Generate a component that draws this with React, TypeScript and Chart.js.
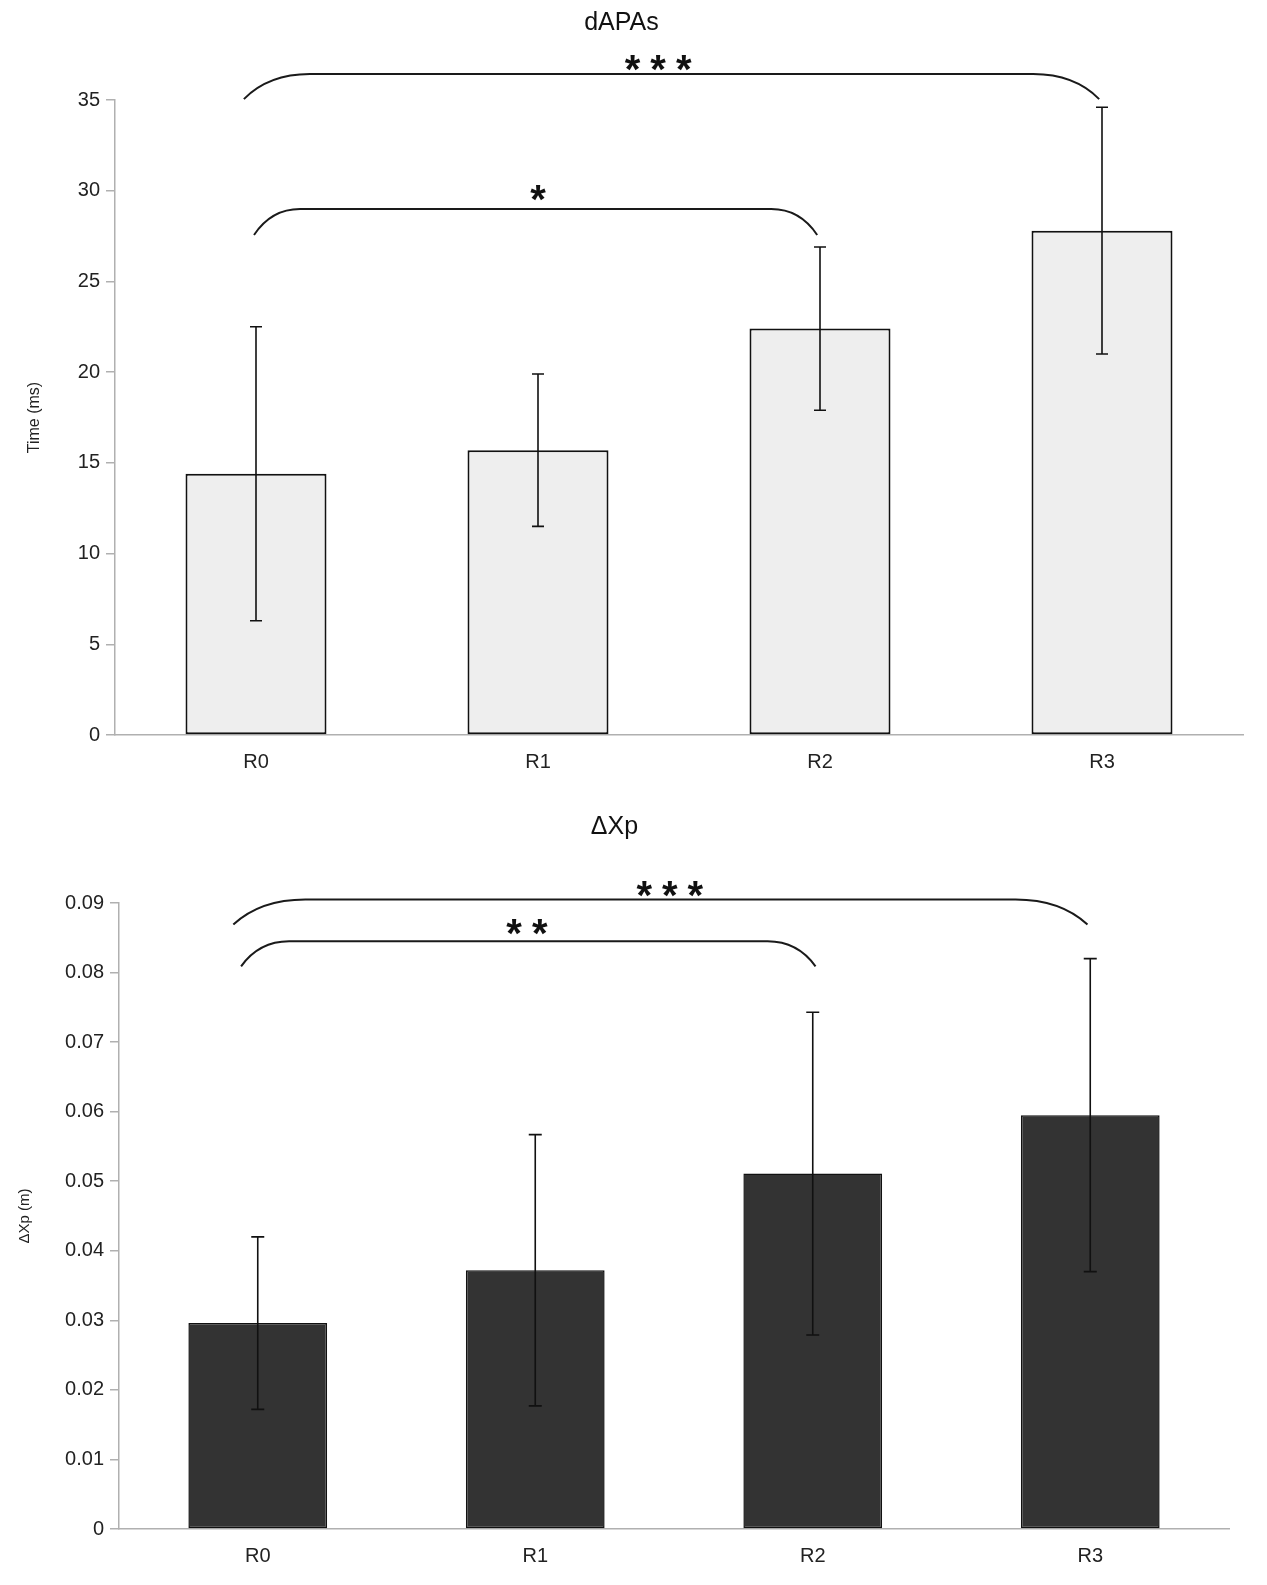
import { useEffect, useRef } from 'react';
import { Chart, registerables, Plugin } from 'chart.js';

Chart.register(...registerables);

const categories = ['R0', 'R1', 'R2', 'R3'];

// dAPAs (ms)
const dapasMeans = [14.4, 15.7, 22.4, 27.8];
const dapasSD = [8.1, 4.2, 4.5, 6.8];
const dapasTicks = [0, 5, 10, 15, 20, 25, 30, 35];
const dapasTickLabels = ['0', '5', '10', '15', '20', '25', '30', '35'];

// ΔXp (m)
const dxpMeans = [0.0296, 0.0372, 0.0511, 0.0595];
const dxpSD = [0.0124, 0.0195, 0.0232, 0.0225];
const dxpTicks = [0, 0.01, 0.02, 0.03, 0.04, 0.05, 0.06, 0.07, 0.08, 0.09];
const dxpTickLabels = ['0', '0.01', '0.02', '0.03', '0.04', '0.05', '0.06', '0.07', '0.08', '0.09'];

// significance brackets: category span, end / top level and label anchor in data units
interface Bracket {
  from: number;
  to: number;
  end: number;
  top: number;
  label: string;
  labelX: number;
  labelY: number;
}

const dapasBrackets: Bracket[] = [
  { from: -0.043, to: 2.99, end: 35.05, top: 36.43, label: '***', labelX: 1.426, labelY: 37.04 },
  { from: -0.007, to: 1.99, end: 27.56, top: 28.99, label: '*', labelX: 1.0, labelY: 29.88 },
];

const dxpBrackets: Bracket[] = [
  { from: -0.088, to: 2.99, end: 0.0869, top: 0.0905, label: '***', labelX: 1.485, labelY: 0.092 },
  { from: -0.06, to: 2.01, end: 0.0809, top: 0.0845, label: '**', labelX: 0.97, labelY: 0.0866 },
];

const FONT = "'Liberation Sans', Arial, sans-serif";
const AXIS = '#b0b0b0';

interface PanelProps {
  width: number;
  height: number;
  title: string;
  yTitle: string;
  yTitleSize: number;
  yTitleX: number;
  titleY: number;
  means: number[];
  sd: number[];
  ticks: number[];
  tickLabels: string[];
  brackets: Bracket[];
  curves: number[];
  area: { left: number; right: number; top: number; bottom: number };
  fill: string;
  border: string;
  borderWidth: number;
  capHalf: number;
}

const errorBars = (sd: number[], capHalf: number): Plugin<'bar'> => ({
  id: 'errorBars',
  afterDatasetsDraw(chart) {
    const ctx = chart.ctx;
    const y = chart.scales.y;
    const meta = chart.getDatasetMeta(0);
    const values = chart.data.datasets[0].data as number[];
    ctx.save();
    ctx.strokeStyle = '#111';
    ctx.lineWidth = 1.6;
    meta.data.forEach((bar, i) => {
      const hi = y.getPixelForValue(values[i] + sd[i]);
      const lo = y.getPixelForValue(values[i] - sd[i]);
      const x = bar.x;
      ctx.beginPath();
      ctx.moveTo(x, hi);
      ctx.lineTo(x, lo);
      ctx.moveTo(x - capHalf, hi);
      ctx.lineTo(x + capHalf, hi);
      ctx.moveTo(x - capHalf, lo);
      ctx.lineTo(x + capHalf, lo);
      ctx.stroke();
    });
    ctx.restore();
  },
});

const sigBrackets = (brackets: Bracket[], curves: number[]): Plugin<'bar'> => ({
  id: 'sigBrackets',
  afterDraw(chart) {
    const ctx = chart.ctx;
    const xs = chart.scales.x;
    const ys = chart.scales.y;
    ctx.save();
    brackets.forEach((b, i) => {
      const x1 = xs.getPixelForValue(b.from);
      const x2 = xs.getPixelForValue(b.to);
      const yEnd = ys.getPixelForValue(b.end);
      const yTop = ys.getPixelForValue(b.top);
      const c = curves[i];
      ctx.strokeStyle = '#1a1a1a';
      ctx.lineWidth = 2;
      ctx.beginPath();
      ctx.moveTo(x1, yEnd);
      ctx.quadraticCurveTo(x1 + c * 0.375, yTop, x1 + c, yTop);
      ctx.lineTo(x2 - c, yTop);
      ctx.quadraticCurveTo(x2 - c * 0.375, yTop, x2, yEnd);
      ctx.stroke();

      // stars
      const spacing = 10;
      ctx.font = `bold 40px ${FONT}`;
      (ctx as any).letterSpacing = `${spacing}px`;
      ctx.fillStyle = '#111';
      ctx.textAlign = 'left';
      ctx.textBaseline = 'alphabetic';
      const m = ctx.measureText(b.label);
      const w = m.width - spacing;
      const lx = xs.getPixelForValue(b.labelX);
      const ly = ys.getPixelForValue(b.labelY);
      const base = ly + (m.actualBoundingBoxAscent - m.actualBoundingBoxDescent) / 2;
      ctx.fillText(b.label, lx - w / 2, base);
      (ctx as any).letterSpacing = '0px';
    });
    ctx.restore();
  },
});

function BarPanel(p: PanelProps) {
  const canvasRef = useRef<HTMLCanvasElement | null>(null);
  const chartRef = useRef<Chart<'bar'> | null>(null);

  useEffect(() => {
    if (!canvasRef.current) return;
    if (chartRef.current) chartRef.current.destroy();

    const titleTop = p.titleY - 15;

    chartRef.current = new Chart(canvasRef.current, {
      type: 'bar',
      data: {
        labels: categories,
        datasets: [
          {
            data: p.means,
            backgroundColor: p.fill,
            borderColor: p.border,
            borderWidth: p.borderWidth,
            borderSkipped: false,
            barPercentage: 0.5,
            categoryPercentage: 1,
          },
        ],
      },
      options: {
        responsive: false,
        animation: false,
        events: [],
        layout: { padding: { left: 0, right: p.width - p.area.right, top: 0, bottom: 0 } },
        plugins: {
          legend: { display: false },
          tooltip: { enabled: false },
          title: {
            display: true,
            text: p.title,
            color: '#111',
            font: { family: FONT, size: 25, weight: 'normal' },
            padding: { top: titleTop, bottom: p.area.top - titleTop - 30 },
          },
        },
        scales: {
          x: {
            grid: { display: false, drawTicks: false },
            border: { display: true, color: AXIS, width: 1.5 },
            ticks: { color: '#222', font: { family: FONT, size: 20 }, padding: 15 },
            afterFit: (s) => {
              s.height = p.height - p.area.bottom;
            },
          },
          y: {
            min: 0,
            max: p.ticks[p.ticks.length - 1],
            afterBuildTicks: (s) => {
              s.ticks = p.ticks.map((v) => ({ value: v }));
            },
            afterFit: (s) => {
              s.width = p.area.left;
            },
            grid: {
              display: true,
              drawOnChartArea: false,
              drawTicks: true,
              tickLength: 9,
              color: AXIS,
              lineWidth: 1.5,
            },
            border: { display: true, color: AXIS, width: 1.5 },
            ticks: {
              color: '#222',
              font: { family: FONT, size: 20 },
              padding: 6,
              callback: (_v, i) => p.tickLabels[i],
            },
            title: {
              display: true,
              text: p.yTitle,
              color: '#222',
              font: { family: FONT, size: p.yTitleSize },
              padding: { top: p.yTitleX - p.yTitleSize * 0.6, bottom: 0 },
            },
          },
        },
      },
      plugins: [errorBars(p.sd, p.capHalf), sigBrackets(p.brackets, p.curves)],
    });

    return () => {
      if (chartRef.current) {
        chartRef.current.destroy();
        chartRef.current = null;
      }
    };
  }, []);

  return (
    <canvas
      ref={canvasRef}
      width={p.width}
      height={p.height}
      style={{ display: 'block', width: p.width, height: p.height }}
    />
  );
}

export default function App() {
  useEffect(() => {
    document.body.style.margin = '0';
    document.body.style.background = '#fff';
  }, []);

  return (
    <div style={{ width: 1267, background: '#fff' }}>
      <BarPanel
        width={1250}
        height={800}
        title="dAPAs"
        yTitle="Time (ms)"
        yTitleSize={16}
        yTitleX={34.5}
        titleY={23}
        means={dapasMeans}
        sd={dapasSD}
        ticks={dapasTicks}
        tickLabels={dapasTickLabels}
        brackets={dapasBrackets}
        curves={[66, 46]}
        area={{ left: 115, right: 1243, top: 100, bottom: 735 }}
        fill="#eeeeee"
        border="#111111"
        borderWidth={2}
        capHalf={6}
      />
      <BarPanel
        width={1230}
        height={785}
        title="ΔXp"
        yTitle="ΔXp (m)"
        yTitleSize={15}
        yTitleX={24.5}
        titleY={27}
        means={dxpMeans}
        sd={dxpSD}
        ticks={dxpTicks}
        tickLabels={dxpTickLabels}
        brackets={dxpBrackets}
        curves={[72, 48]}
        area={{ left: 119, right: 1229, top: 103, bottom: 729 }}
        fill="#333333"
        border="#111111"
        borderWidth={1.5}
        capHalf={6.5}
      />
    </div>
  );
}
